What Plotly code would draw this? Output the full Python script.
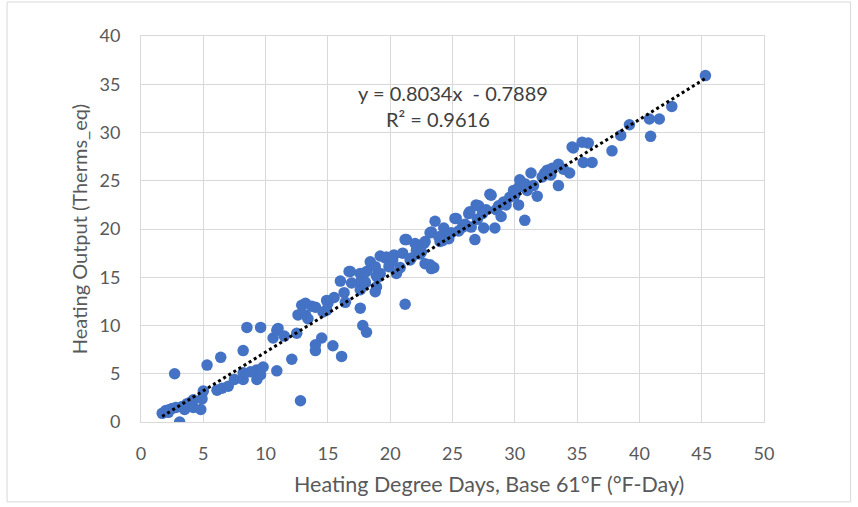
import plotly.graph_objects as go

hdd = [1.7, 2.0, 2.2, 2.5, 2.8, 3.1, 3.3, 3.5, 3.7, 4.2, 4.2, 4.9, 4.8, 2.7, 5.3, 6.1, 6.5, 7.0, 7.5, 8.2,
       8.2, 8.8, 9.3, 9.6, 9.3, 9.8, 10.9, 6.4, 8.2, 8.5, 9.6, 10.6, 10.9, 11.0,
       12.1, 12.8, 14.0, 14.5, 14.0, 15.4, 16.1, 12.5, 12.6, 13.2, 13.4, 12.9, 13.2, 13.7, 14.0, 14.6,
       14.9, 15.0, 14.9, 16.4, 17.6, 17.8, 18.1, 16.0, 16.7, 16.8, 16.9, 17.6, 17.6, 17.6, 18.0, 18.8,
       18.9, 18.0, 18.1, 18.5, 18.4, 18.9, 18.8, 19.2, 19.2, 19.6, 19.7, 20.3, 20.5, 21.0, 21.2,
       21.3, 21.2, 22.0, 22.1, 22.7, 22.8, 22.8, 23.5, 23.3, 23.2, 23.3, 23.2, 23.6, 24.0, 24.3, 24.7,
       25.2, 25.3, 26.3, 26.4, 26.8, 26.9, 27.1, 27.5, 27.7, 28.0, 28.1, 28.4, 28.5, 28.9, 29.1, 29.6,
       29.9, 30.3, 30.3, 30.4, 30.8, 30.8, 31.3, 31.8, 32.2, 32.4, 32.6, 33.0, 33.5, 33.5, 34.4, 34.6,
       34.7, 35.4, 35.9, 35.5, 36.2, 37.8, 38.5, 39.2, 40.8, 41.6, 40.9, 42.6, 45.3,
       20.0, 20.8, 21.6, 22.4, 24.5, 25.8, 26.0, 27.0, 27.4, 29.3, 31.0, 30.0, 19.9, 20.2, 21.7, 23.9,
       24.9, 25.5, 26.5, 2.3, 3.9, 5.0, 11.5, 15.5, 16.3, 19.0, 22.5, 24.2, 28.7, 31.5, 33.9, 32.9]
therms = [0.9, 1.2, 1.0, 1.4, 1.5, 0.0, 1.6, 1.3, 1.9, 2.3, 1.5, 2.4, 1.3, 5.0, 5.9, 3.3, 3.5, 3.7, 4.4, 4.4,
          5.1, 5.2, 5.4, 4.9, 4.4, 5.7, 5.3, 6.7, 7.4, 9.8, 9.8, 8.7, 9.5, 9.7,
          6.5, 2.2, 7.4, 8.7, 8.0, 7.9, 6.8, 9.2, 11.1, 11.1, 10.7, 12.1, 12.3, 12.0, 11.9, 11.4,
          12.6, 12.3, 11.6, 12.4, 11.8, 10.0, 9.3, 14.6, 15.6, 15.6, 14.4, 15.4, 14.5, 13.7, 14.4, 13.5,
          14.0, 14.5, 15.6, 16.3, 16.6, 15.1, 16.1, 15.4, 17.2, 17.0, 17.1, 17.3, 15.4, 17.5, 12.2,
          18.9, 18.9, 18.5, 17.8, 18.5, 18.7, 16.4, 16.0, 15.9, 16.3, 19.7, 19.6, 20.8, 18.7, 20.1, 19.0,
          21.1, 21.1, 21.6, 21.8, 18.9, 22.5, 22.4, 20.1, 22.0, 23.6, 23.5, 20.1, 22.0, 21.3, 22.8, 23.3,
          24.0, 24.3, 22.5, 25.1, 24.7, 20.9, 25.8, 23.4, 25.4, 25.8, 26.1, 26.3, 26.7, 24.5, 25.8, 28.5,
          28.4, 29.0, 28.9, 26.9, 26.9, 28.1, 29.7, 30.8, 31.4, 31.4, 29.6, 32.7, 35.9,
          16.5, 16.0, 16.8, 17.4, 19.5, 20.2, 20.5, 21.0, 21.6, 22.5, 24.0, 23.5, 16.1, 16.8, 17.0, 19.2,
          19.6, 19.8, 20.2, 1.3, 2.0, 3.2, 8.9, 12.9, 13.4, 15.0, 17.6, 18.8, 22.4, 24.5, 26.2, 25.6]

x_ticks = [0, 5, 10, 15, 20, 25, 30, 35, 40, 45, 50]
y_ticks = [0, 5, 10, 15, 20, 25, 30, 35, 40]
slope = 0.8034
intercept = -0.7889
r2 = 0.9616
x_title = "Heating Degree Days, Base 61°F (°F-Day)"
y_title = "Heating Output (Therms_eq)"

trend_x = [min(hdd), max(hdd)]
trend_y = [slope * v + intercept for v in trend_x]

font_family = "Lato, 'Open Sans', sans-serif"
grid = "#D9D9D9"
txt = "#595959"

fig = go.Figure()
fig.add_trace(go.Scatter(x=hdd, y=therms, mode="markers",
                         marker=dict(color="#4472C4", size=11.5, line=dict(width=0)),
                         showlegend=False, hoverinfo="x+y"))
fig.add_trace(go.Scatter(x=trend_x, y=trend_y, mode="lines",
                         line=dict(color="black", width=3, dash="dot"),
                         showlegend=False, hoverinfo="skip"))

fig.update_layout(
    width=858, height=507,
    margin=dict(l=141, r=94, t=36, b=85),
    paper_bgcolor="white", plot_bgcolor="white",
    font=dict(family=font_family, color=txt, size=18),
    annotations=[
        dict(x=25.0, y=34.1, xref="x", yref="y", text=f"y = {slope}x&nbsp; - {abs(intercept)}",
             showarrow=False, font=dict(size=20, color="#404040", family=font_family)),
        dict(x=23.8, y=31.4, xref="x", yref="y", text=f"R² = {r2}",
             showarrow=False, font=dict(size=20, color="#404040", family=font_family)),
        dict(x=0.5586, y=-0.1606, xref="paper", yref="paper", text=x_title,
             showarrow=False, xanchor="center", yanchor="middle",
             font=dict(size=21.5, color=txt, family=font_family)),
    ],
    shapes=[dict(type="rect", xref="paper", yref="paper",
                 x0=-0.215, x1=1.139, y0=-0.207, y1=1.088,
                 line=dict(color=grid, width=1), fillcolor="rgba(0,0,0,0)", layer="below")],
)
fig.update_xaxes(range=[0, 50], tickvals=x_ticks, showgrid=True, gridcolor=grid, gridwidth=1,
                 zeroline=False, showline=True, linecolor=grid, mirror=True,
                 ticks="", ticklabelstandoff=15, tickfont=dict(size=18, color=txt))
fig.update_yaxes(range=[0, 40], tickvals=y_ticks, showgrid=True, gridcolor=grid, gridwidth=1,
                 zeroline=False, showline=True, linecolor=grid, mirror=True,
                 ticks="", ticklabelstandoff=16, tickfont=dict(size=18, color=txt),
                 title=dict(text=y_title, font=dict(size=20, color=txt), standoff=6))

fig.write_html("out.html", config={"displayModeBar": False},
               post_script="document.body.style.margin='0';")
